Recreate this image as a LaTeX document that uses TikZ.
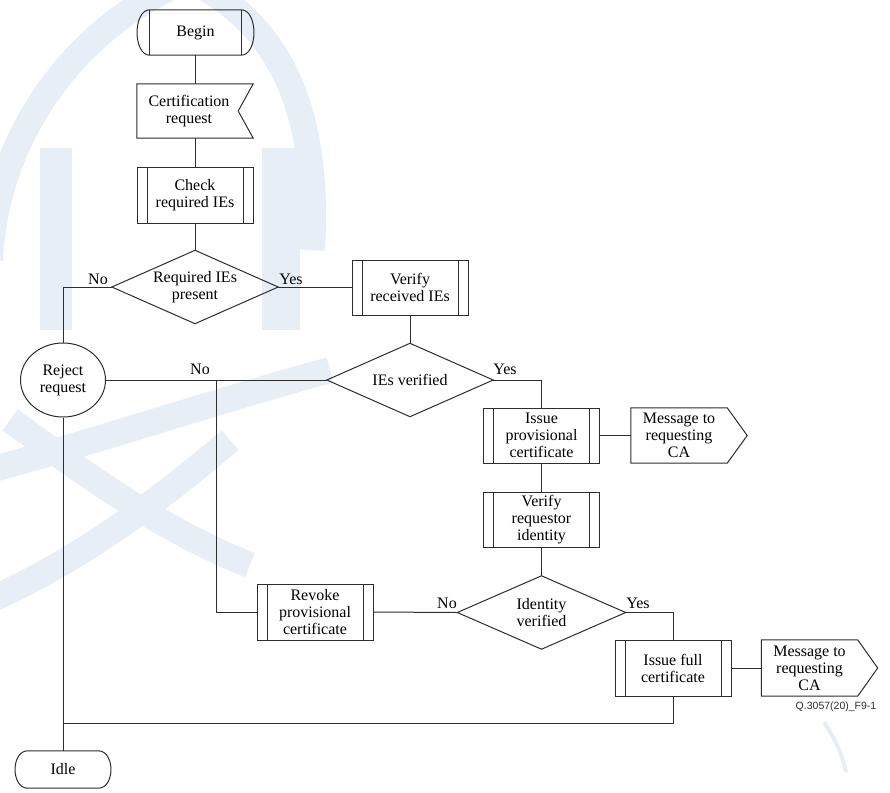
\documentclass[tikz,border=0pt]{standalone}
\usepackage{fontspec}
\setmainfont{Liberation Serif}
\newfontfamily\qfont{Liberation Sans}
\usetikzlibrary{shapes.geometric}
\definecolor{wm}{RGB}{231,238,246}
\definecolor{ink}{RGB}{45,45,45}
\begin{document}
\begin{tikzpicture}[x=1pt,y=-1pt,
  ln/.style={draw=ink,line width=1pt},
  txt/.style={font=\fontsize{16}{17}\selectfont,align=center,inner sep=0pt,text=black},
  lbl/.style={font=\fontsize{16}{17}\selectfont,inner sep=0pt,text=black},
  procbox/.style={txt,ln,rectangle,minimum width=116pt,minimum height=#1,
    path picture={\draw[ln] ([xshift=10pt]path picture bounding box.north west) -- ([xshift=10pt]path picture bounding box.south west)
      ([xshift=-10pt]path picture bounding box.north east) -- ([xshift=-10pt]path picture bounding box.south east);}},
  procbox/.default=56pt,
  decision/.style={txt,minimum width=#1,minimum height=73pt,
    append after command={\pgfextra{\draw[ln] (\tikzlastnode.north) -- (\tikzlastnode.east) -- (\tikzlastnode.south) -- (\tikzlastnode.west) -- cycle;}}},
  decision/.default=166pt,
  outsig/.style={txt,minimum width=96pt,minimum height=#1,
    append after command={\pgfextra{\draw[ln] (\tikzlastnode.north west) -- (\tikzlastnode.north east) -- ([xshift=20pt]\tikzlastnode.east) -- (\tikzlastnode.south east) -- (\tikzlastnode.south west) -- cycle;}}},
  outsig/.default=56pt,
  insig/.style={txt,minimum width=104pt,minimum height=54pt,
    append after command={\pgfextra{\draw[ln] (\tikzlastnode.north west) -- ([xshift=12pt]\tikzlastnode.north east) -- ([xshift=-3pt]\tikzlastnode.east) -- ([xshift=12pt]\tikzlastnode.south east) -- (\tikzlastnode.south west) -- cycle;}}},
  startbox/.style={txt,minimum width=91pt,minimum height=45pt,
    append after command={\pgfextra{
      \draw[ln] (\tikzlastnode.north west) -- (\tikzlastnode.north east)
        .. controls ([xshift=17pt]\tikzlastnode.north east) and ([xshift=17pt]\tikzlastnode.south east) .. (\tikzlastnode.south east)
        -- (\tikzlastnode.south west)
        .. controls ([xshift=-17pt]\tikzlastnode.south west) and ([xshift=-17pt]\tikzlastnode.north west) .. (\tikzlastnode.north west) -- cycle;
      \draw[ln] (\tikzlastnode.north west) -- (\tikzlastnode.south west) (\tikzlastnode.north east) -- (\tikzlastnode.south east);}}},
  statebox/.style={txt,minimum width=70pt,minimum height=37pt,
    append after command={\pgfextra{
      \draw[ln] (\tikzlastnode.north west) -- (\tikzlastnode.north east)
        .. controls ([xshift=17pt]\tikzlastnode.north east) and ([xshift=17pt]\tikzlastnode.south east) .. (\tikzlastnode.south east)
        -- (\tikzlastnode.south west)
        .. controls ([xshift=-17pt]\tikzlastnode.south west) and ([xshift=-17pt]\tikzlastnode.north west) .. (\tikzlastnode.north west) -- cycle;}}}
]
\fill[white] (0,0) rectangle (890,792);
\useasboundingbox (0,0) rectangle (890,792);

% faint watermark
\begin{scope}[draw=wm,line width=26pt,line cap=butt]
  \clip (0,0) rectangle (890,792);
  \draw (175,-15) .. controls (60,40) and (-5,150) .. (-10,260);
  \draw (200,-15) .. controls (280,30) and (320,110) .. (312,250);
  \draw (-10,470) .. controls (100,440) and (220,400) .. (330,370);
  \draw (-10,600) .. controls (80,560) and (160,500) .. (230,440);
  \draw (10,420) .. controls (80,470) and (160,530) .. (250,565);
  \fill[wm] (40,148) rectangle (72,330);
  \fill[wm] (262,148) rectangle (300,330);
  \draw[line width=4pt] (824,722) .. controls (836,740) and (842,755) .. (846,772);
\end{scope}

% nodes
\node[startbox] (begin) at (195.5,32.5) {Begin};
\node[insig] (cert) at (189,111) {Certification\\request};
\node[procbox] (check) at (195,195) {Check\\required IEs};
\node[decision] (d1) at (195,287) {Required IEs\\present};
\node[procbox=55pt] (vr) at (410,287.5) {Verify\\received IEs};
\node[txt,ln,ellipse,minimum width=85pt,minimum height=74pt] (rej) at (63,380) {Reject\\request};
\node[decision] (d2) at (410,380) {IEs verified};
\node[procbox=55pt] (ip) at (541.5,435.5) {Issue\\provisional\\certificate};
\node[outsig=55pt] (m1) at (679,435.5) {Message to\\requesting\\CA};
\node[procbox=55pt] (vri) at (541.5,519.5) {Verify\\requestor\\identity};
\node[decision=168pt] (d3) at (541.5,612.5) {Identity\\verified};
\node[procbox] (rv) at (315,612) {Revoke\\provisional\\certificate};
\node[procbox] (ifc) at (673,668) {Issue full\\certificate};
\node[outsig] (m2) at (809.5,668) {Message to\\requesting\\CA};
\node[statebox] (idle) at (63,769.5) {Idle};
\node[font=\qfont\fontsize{10.5}{12}\selectfont,inner sep=0pt,text=ink] (fig) at (836,707) {Q.3057(20)\_F9-1};

% branch labels
\node[lbl] (no1) at (98,279) {No};
\node[lbl] (yes1) at (291,279) {Yes};
\node[lbl] (no2) at (200,369) {No};
\node[lbl] (yes2) at (505,369) {Yes};
\node[lbl] (no3) at (447,603) {No};
\node[lbl] (yes3) at (638,603) {Yes};

% connectors
\coordinate (j1) at (216,380);
\coordinate (j2) at (63,723);
\draw[ln] (begin.south) -- (begin.south |- cert.north);
\draw[ln] (check.north) -- (check.north |- cert.south);
\draw[ln] (check.south) -- (d1.north);
\draw[ln] (d1.west) -| (rej.north);
\draw[ln] (d1.east) -- (d1.east -| vr.west);
\draw[ln] (vr.south) -- (d2.north);
\draw[ln] (d2.west) -- (rej.east);
\draw[ln] (j1) |- (rv.west);
\draw[ln] (d2.east) -| (ip.north);
\draw[ln] (ip.east) -- (m1.west);
\draw[ln] (ip.south) -- (vri.north);
\draw[ln] (vri.south) -- (d3.north);
\draw[ln] (d3.west) -- (rv.east);
\draw[ln] (d3.east) -| (ifc.north);
\draw[ln] (ifc.east) -- (m2.west);
\draw[ln] (ifc.south) |- (j2);
\draw[ln] (rej.south) -- (idle.north);
\end{tikzpicture}
\end{document}
